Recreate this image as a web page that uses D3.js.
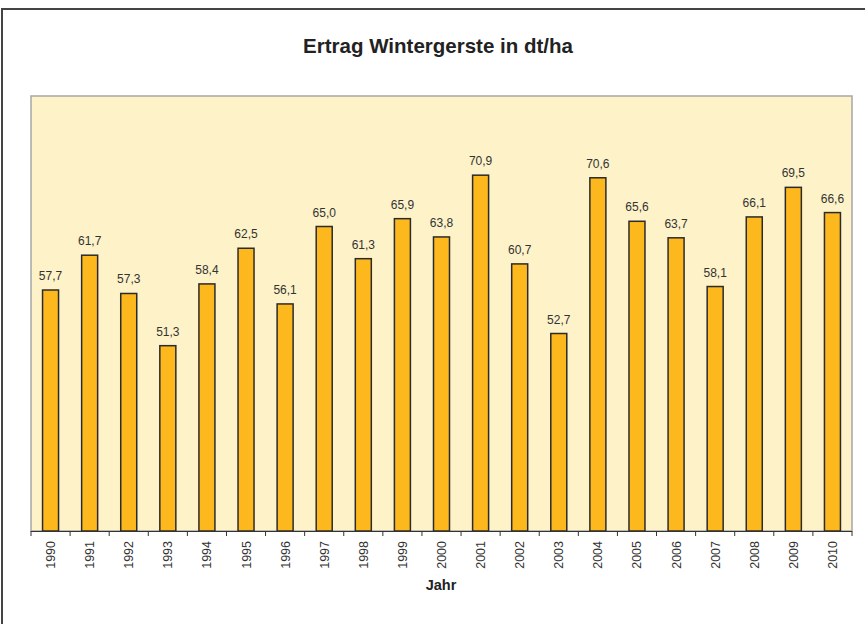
<!DOCTYPE html>
<html><head><meta charset="utf-8">
<script src="https://cdn.jsdelivr.net/npm/d3@7"></script>
<style>body{margin:0;background:#fff}svg{display:block;font-family:"Liberation Sans",Arial,sans-serif}</style>
</head><body>
<script>
const years = ["1990","1991","1992","1993","1994","1995","1996","1997","1998","1999","2000","2001","2002","2003","2004","2005","2006","2007","2008","2009","2010"];
const ertrag = [57.7,61.7,57.3,51.3,58.4,62.5,56.1,65.0,61.3,65.9,63.8,70.9,60.7,52.7,70.6,65.6,63.7,58.1,66.1,69.5,66.6];
const yDomain = [30, 80];
const title = "Ertrag Wintergerste in dt/ha";
const xTitle = "Jahr";

const W = 865, H = 624;
const pl = 31, pr = 852, pt = 96, pb = 531;
const svg = d3.select("body").append("svg").attr("width", W).attr("height", H);

svg.append("rect").attr("x", 2).attr("y", 9).attr("width", W + 10).attr("height", H + 10)
  .attr("fill", "#fff").attr("stroke", "#444").attr("stroke-width", 2);

svg.append("text").attr("x", 438).attr("y", 53).attr("text-anchor", "middle")
  .attr("font-size", 20.5).attr("font-weight", "bold").attr("fill", "#222").text(title);

const x = d3.scaleBand().domain(years).range([pl, pr]).padding(0);
const y = d3.scaleLinear().domain(yDomain).range([pb, pt]);

svg.append("rect").attr("x", pl).attr("y", pt).attr("width", pr - pl).attr("height", pb - pt)
  .attr("fill", "#FDF2C8").attr("stroke", "#A6A6A6").attr("stroke-width", 1.5);

const bw = 16;
svg.append("g").selectAll("rect").data(years).join("rect")
  .attr("x", d => x(d) + x.bandwidth() / 2 - bw / 2)
  .attr("y", (d, i) => y(ertrag[i]))
  .attr("width", bw)
  .attr("height", (d, i) => y(yDomain[0]) - y(ertrag[i]))
  .attr("fill", "#FDB81E").attr("stroke", "#2b2b2b").attr("stroke-width", 1.5);

svg.append("g").selectAll("text").data(years).join("text")
  .attr("x", d => x(d) + x.bandwidth() / 2)
  .attr("y", (d, i) => y(ertrag[i]) - 10)
  .attr("text-anchor", "middle").attr("font-size", 12).attr("fill", "#333")
  .text((d, i) => d3.format(".1f")(ertrag[i]).replace(".", ","));

const ax = svg.append("g");
ax.append("line").attr("x1", pl).attr("x2", pr).attr("y1", pb + 0.5).attr("y2", pb + 0.5)
  .attr("stroke", "#333").attr("stroke-width", 1.2);
const bounds = years.map(d => x(d)).concat([pr]);
ax.selectAll("line.t").data(bounds).join("line").attr("class", "t")
  .attr("x1", d => d).attr("x2", d => d).attr("y1", pb).attr("y2", pb + 5)
  .attr("stroke", "#333").attr("stroke-width", 1);
ax.selectAll("text").data(years).join("text")
  .attr("transform", d => `translate(${x(d) + x.bandwidth() / 2 + 4.5},${pb + 10}) rotate(-90)`)
  .attr("text-anchor", "end").attr("font-size", 12.5).attr("fill", "#333").text(d => d);

svg.append("text").attr("x", 441).attr("y", 590).attr("text-anchor", "middle")
  .attr("font-size", 14.5).attr("font-weight", "bold").attr("fill", "#222").text(xTitle);
</script>
</body></html>
